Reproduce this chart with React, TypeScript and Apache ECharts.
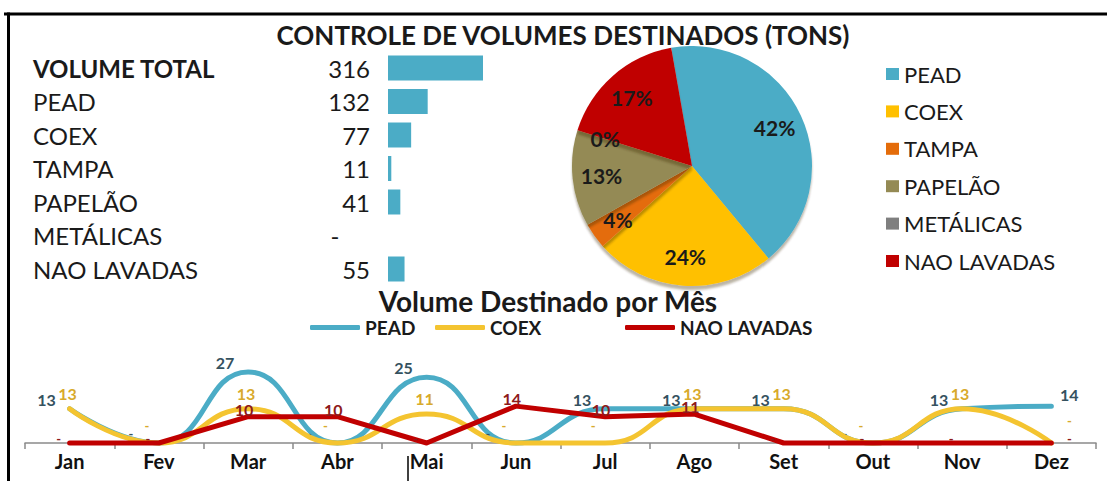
import React, { useEffect, useRef } from 'react';
import * as echarts from 'echarts';

const tableLabels = ['VOLUME TOTAL', 'PEAD', 'COEX', 'TAMPA', 'PAPELÃO', 'METÁLICAS', 'NAO LAVADAS'];
const tableValues = [316, 132, 77, 11, 41, 0, 55];

const pieNames = ['PEAD', 'COEX', 'TAMPA', 'PAPELÃO', 'METÁLICAS', 'NAO LAVADAS'];
const pieValues = [132, 77, 11, 41, 0, 55];
const pieColors = ['#4BACC6', '#FFC000', '#E46C0A', '#948A54', '#7F7F7F', '#C00000'];

const months = ['Jan', 'Fev', 'Mar', 'Abr', 'Mai', 'Jun', 'Jul', 'Ago', 'Set', 'Out', 'Nov', 'Dez'];
const peadMonthly = [13, 0, 27, 0, 25, 0, 13, 13, 13, 0, 13, 14];
const coexMonthly = [13, 0, 13, 0, 11, 0, 0, 13, 13, 0, 13, 0];
const naoLavadasMonthly = [0, 0, 10, 10, 0, 14, 10, 11, 0, 0, 0, 0];

const lineSeriesNames = ['PEAD', 'COEX', 'NAO LAVADAS'];
const lineColors = ['#4BACC6', '#F4C430', '#C00000'];
const lineLabelColors = ['#35525f', '#d8aa2c', '#8e1a1a'];

const mainTitle = 'CONTROLE DE VOLUMES DESTINADOS (TONS)';
const lineTitle = 'Volume Destinado por Mês';

const FONT = 'Lato';

function buildOption() {
  const maxTable = Math.max(...tableValues);
  const txt = '#1a1a1a';

  // label offsets per series: non-zero offset and zero ("-") offset
  const labelOffsets = [
    { nz: [-23, 4], z: [-28, 0] },
    { nz: [-2, -2], z: [-12, -8] },
    { nz: [-4, 6], z: [-11, 5] },
  ];

  const buildData = (values: number[], idx: number) =>
    values.map((v, i) => {
      const last = i === values.length - 1;
      if (v === 0) {
        return {
          value: v,
          label: {
            fontSize: 13,
            lineHeight: 8,
            offset: last ? [18, idx === 1 ? -13 : 5] : labelOffsets[idx].z,
          },
        };
      }
      return last ? { value: v, label: { offset: [18, 2] } } : v;
    });

  const mkLine = (idx: number, values: number[], smooth: number | boolean) => ({
    type: 'line',
    name: 'm_' + idx,
    xAxisIndex: 1,
    yAxisIndex: 1,
    data: buildData(values, idx),
    smooth,
    symbol: 'circle',
    symbolSize: 1,
    clip: false,
    lineStyle: { color: lineColors[idx], width: 5, cap: 'round', join: 'round' },
    itemStyle: { color: lineColors[idx] },
    label: {
      show: true,
      position: 'top',
      offset: labelOffsets[idx].nz,
      formatter: (p: any) => (Number(p.value) === 0 ? '-' : String(p.value)),
      fontFamily: FONT,
      fontSize: 16,
      fontWeight: 'bold',
      color: lineLabelColors[idx],
    },
    z: 2 + idx,
  });

  const lineLegendLefts = [305, 430, 620];
  const pieCenter = [692, 166];

  return {
    animation: false,
    backgroundColor: '#ffffff',
    textStyle: { fontFamily: FONT },
    grid: [
      { left: 388, top: 51.25, width: 95, height: 234.5 },
      { left: 25, right: 11, top: 364, bottom: 38 },
    ],
    xAxis: [
      { gridIndex: 0, type: 'value', min: 0, max: maxTable, show: false },
      {
        gridIndex: 1,
        type: 'category',
        data: months,
        boundaryGap: true,
        axisLine: { show: true, lineStyle: { color: '#8a8a8a', width: 1.5 } },
        axisTick: { show: true, length: 6, lineStyle: { color: '#8a8a8a', width: 1.5 } },
        axisLabel: { fontFamily: FONT, fontWeight: 'bold', fontSize: 20, color: '#111', margin: 8 },
        splitLine: { show: false },
      },
    ],
    yAxis: [
      {
        gridIndex: 0,
        type: 'category',
        data: tableLabels,
        inverse: true,
        axisLine: { show: false },
        axisTick: { show: false },
        splitLine: { show: false },
        axisLabel: {
          margin: 18,
          formatter: (value: string, index: number) => {
            const v = tableValues[index];
            const nameTag = index === 0 ? 'nb' : 'n';
            if (v === 0) return `{${nameTag}|${value}}{d|-}`;
            return `{${nameTag}|${value}}{v|${v}}`;
          },
          rich: {
            n: { width: 267, align: 'left', fontSize: 24, color: txt, fontFamily: FONT },
            nb: { width: 267, align: 'left', fontSize: 24, color: txt, fontFamily: FONT, fontWeight: 'bold' },
            v: { width: 70, align: 'right', fontSize: 24, color: txt, fontFamily: FONT },
            d: { width: 70, align: 'center', fontSize: 24, color: txt, fontFamily: FONT },
          },
        },
      },
      { gridIndex: 1, type: 'value', min: 0, max: 30, show: false },
    ],
    legend: [
      {
        data: pieNames,
        orient: 'vertical',
        left: 881,
        top: 58,
        icon: 'rect',
        itemWidth: 13,
        itemHeight: 12,
        itemGap: 15.4,
        selectedMode: false,
        textStyle: { fontFamily: FONT, fontSize: 22, color: txt, lineHeight: 22 },
      },
      ...lineSeriesNames.map((n, i) => ({
        data: [{ name: 'm_' + i, icon: 'roundRect', itemStyle: { color: lineColors[i] } }],
        formatter: (name: string) => lineSeriesNames[Number(name.slice(2))],
        orient: 'horizontal',
        left: lineLegendLefts[i],
        top: 313,
        itemWidth: 50,
        itemHeight: 5,
        selectedMode: false,
        textStyle: { fontFamily: FONT, fontSize: 19, fontWeight: 'bold', color: txt, lineHeight: 18 },
      })),
    ],
    series: [
      {
        type: 'bar',
        xAxisIndex: 0,
        yAxisIndex: 0,
        data: tableValues,
        barWidth: 25,
        itemStyle: { color: '#4BACC6' },
        silent: true,
      },
      {
        type: 'pie',
        center: pieCenter,
        radius: 120,
        startAngle: 100,
        clockwise: true,
        percentPrecision: 0,
        label: { show: false },
        labelLine: { show: false },
        itemStyle: { borderWidth: 0, shadowColor: 'rgba(60,40,0,0.35)', shadowOffsetY: 4, shadowBlur: 2 },
        data: pieNames.map((n, i) => ({ name: n, value: pieValues[i], itemStyle: { color: pieColors[i] } })),
        silent: true,
        z: 2,
      },
      {
        type: 'pie',
        center: pieCenter,
        radius: 176,
        startAngle: 100,
        clockwise: true,
        percentPrecision: 0,
        label: {
          show: true,
          position: 'inside',
          formatter: '{d}%',
          fontFamily: FONT,
          fontSize: 21,
          fontWeight: 'bold',
          color: '#1a1a1a',
        },
        labelLine: { show: false },
        itemStyle: { color: 'rgba(0,0,0,0)', borderWidth: 0 },
        data: pieNames.map((n, i) => ({ name: n, value: pieValues[i] })),
        silent: true,
        z: 3,
      },
      mkLine(0, peadMonthly, 0.5),
      mkLine(1, coexMonthly, 0.5),
      mkLine(2, naoLavadasMonthly, false),
    ],
    graphic: [
      { type: 'line', shape: { x1: 4, y1: 14, x2: 1107, y2: 14 }, style: { stroke: '#000', lineWidth: 3 } },
      { type: 'line', shape: { x1: 8.5, y1: 12.5, x2: 8.5, y2: 481 }, style: { stroke: '#000', lineWidth: 3 } },
      { type: 'line', shape: { x1: 408, y1: 456, x2: 408, y2: 481 }, style: { stroke: '#000', lineWidth: 1.5 } },
      {
        type: 'text',
        x: 563,
        y: 35,
        style: { text: mainTitle, fontFamily: FONT, fontSize: 26, fontWeight: 'bold', fill: '#1a1a1a', align: 'center', verticalAlign: 'middle' },
      },
      {
        type: 'text',
        x: 548,
        y: 301,
        style: { text: lineTitle, fontFamily: FONT, fontSize: 28, fontWeight: 'bold', fill: '#1a1a1a', align: 'center', verticalAlign: 'middle' },
      },
    ],
  };
}

export default function App() {
  const ref = useRef<HTMLDivElement>(null);
  useEffect(() => {
    if (!ref.current) return;
    const chart = echarts.init(ref.current, undefined, { renderer: 'svg' });
    chart.setOption(buildOption() as any);
    return () => chart.dispose();
  }, []);
  return (
    <div
      ref={ref}
      style={{ position: 'absolute', left: 0, top: 0, width: 1107, height: 481, background: '#fff' }}
    />
  );
}
